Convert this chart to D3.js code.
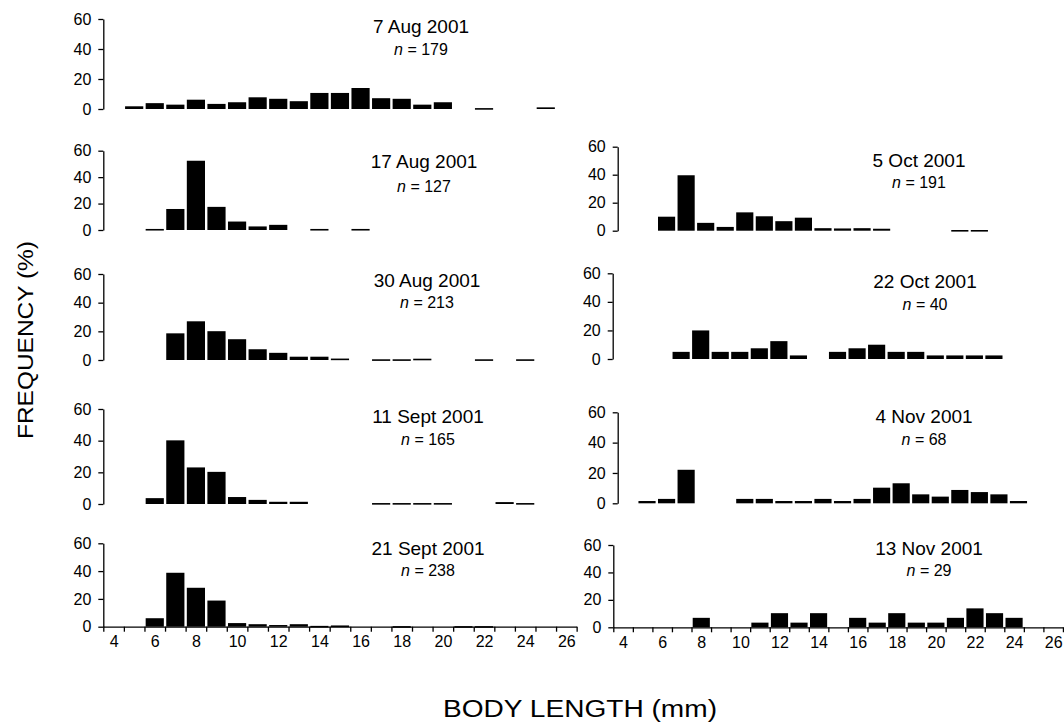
<!DOCTYPE html>
<html>
<head>
<meta charset="utf-8">
<script src="https://cdn.jsdelivr.net/npm/d3@7"></script>
<style>
  body { margin: 0; background: #fff; }
  svg { display: block; font-family: "Liberation Sans", Arial, sans-serif; }
  .axis path, .axis line { stroke: #000; stroke-width: 1.3px; }
</style>
</head>
<body>
<svg id="chart" width="1064" height="726"></svg>
<script>
// body length classes (mm)
const bins = d3.range(4, 27);
const xLabels = [4, 6, 8, 10, 12, 14, 16, 18, 20, 22, 24, 26];
const yTicks = [0, 20, 40, 60];

const dates = ["7 Aug 2001", "17 Aug 2001", "30 Aug 2001", "11 Sept 2001", "21 Sept 2001",
  "5 Oct 2001", "22 Oct 2001", "4 Nov 2001", "13 Nov 2001"];
const sampleSizes = [179, 127, 213, 165, 238, 191, 40, 68, 29];

// frequency (%) per length class, one array per sample, [bin, pct]
const aug07 = [[5,1.8],[6,3.9],[7,2.9],[8,6.2],[9,3.4],[10,4.5],[11,7.8],[12,6.8],[13,5.2],[14,10.7],
  [15,10.7],[16,14.0],[17,7.2],[18,6.8],[19,2.9],[20,4.5],[22,0.6],[25,1.1]];
const aug17 = [[6,0.8],[7,15.9],[8,52.4],[9,17.5],[10,6.4],[11,2.7],[12,3.9],[14,0.8],[16,0.8]];
const aug30 = [[7,18.6],[8,27.0],[9,20.1],[10,14.5],[11,7.5],[12,5.0],[13,2.3],[14,2.3],[15,1.0],
  [17,0.5],[18,0.5],[19,0.9],[22,0.5],[24,0.5]];
const sep11 = [[6,3.7],[7,40.2],[8,23.1],[9,20.3],[10,4.4],[11,2.6],[12,1.4],[13,1.4],[17,0.6],
  [18,0.6],[19,0.6],[20,0.6],[23,1.2],[24,0.6]];
const sep21 = [[6,6.1],[7,38.8],[8,28.0],[9,18.8],[10,2.6],[11,1.8],[12,1.2],[13,1.8],[14,0.6],
  [15,0.9],[18,0.4],[21,0.4],[22,0.4]];
const oct05 = [[6,10.0],[7,39.6],[8,5.6],[9,2.7],[10,13.1],[11,10.3],[12,6.8],[13,9.3],[14,1.8],
  [15,1.6],[16,1.8],[17,1.4],[21,0.5],[22,0.5]];
const oct22 = [[7,5.0],[8,20.0],[9,5.0],[10,5.0],[11,7.5],[12,12.5],[13,2.5],[15,5.0],[16,7.5],
  [17,10.0],[18,5.0],[19,5.0],[20,2.5],[21,2.5],[22,2.5],[23,2.5]];
const nov04 = [[5,1.5],[6,2.9],[7,22.1],[10,2.9],[11,2.9],[12,1.5],[13,1.5],[14,2.9],[15,1.5],
  [16,2.9],[17,10.3],[18,13.2],[19,5.9],[20,4.4],[21,8.8],[22,7.4],[23,5.9],[24,1.5]];
const nov13 = [[8,6.9],[11,3.4],[12,10.3],[13,3.4],[14,10.3],[16,6.9],[17,3.4],[18,10.3],[19,3.4],
  [20,3.4],[21,6.9],[22,13.8],[23,10.3],[24,6.9]];

const series = [aug07, aug17, aug30, sep11, sep21, oct05, oct22, nov04, nov13];

// panel frames: left edge of x range, bin width, y of 60 and y of 0
const panels = [
  { x0: 103.3, bw: 20.58, top: 19,    base: 109,   tx: 421, ty: 33,  ny: 55,  xAxis: false },
  { x0: 103.3, bw: 20.58, top: 150.7, base: 230,   tx: 424, ty: 168, ny: 192, xAxis: false },
  { x0: 103.3, bw: 20.58, top: 274,   base: 360,   tx: 427, ty: 287, ny: 308, xAxis: false },
  { x0: 103.3, bw: 20.58, top: 409,   base: 504,   tx: 428, ty: 423, ny: 445, xAxis: false },
  { x0: 103.3, bw: 20.58, top: 543.3, base: 626.7, tx: 428, ty: 555, ny: 576, xAxis: true },
  { x0: 617.7, bw: 19.55, top: 146.7, base: 230.7, tx: 919, ty: 167, ny: 188, xAxis: false },
  { x0: 612.7, bw: 19.55, top: 273.3, base: 359,   tx: 925, ty: 288, ny: 310, xAxis: false },
  { x0: 617.7, bw: 19.55, top: 412.3, base: 503.3, tx: 924, ty: 423, ny: 445, xAxis: false },
  { x0: 613.3, bw: 19.55, top: 545,   base: 627.3, tx: 929, ty: 555, ny: 576, xAxis: true }
];

const svg = d3.select("#chart");

function styleAxis(sel) {
  sel.selectAll("text")
    .attr("font-family", "Liberation Sans, Arial, sans-serif")
    .style("font-size", "16px")
    .attr("fill", "#000");
}

panels.forEach(function(p, i) {
  let x = d3.scaleLinear()
    .domain([3.5, 26.5])
    .range([p.x0, p.x0 + p.bw * bins.length]);
  let y = d3.scaleLinear().domain([0, 60]).range([p.base, p.top]);

  let g = svg.append("g").attr("class", "panel");

  g.selectAll("rect")
    .data(series[i])
    .enter().append("rect")
    .attr("x", d => x(d[0] - 0.5) + 1.2)
    .attr("width", d => x(d[0] + 0.5) - x(d[0] - 0.5) - 2.4)
    .attr("y", d => y(d[1]))
    .attr("height", d => Math.max(1.6, y(0) - y(d[1])))
    .attr("fill", "#000");

  if (p.xAxis) {
    // ticks on class edges
    g.append("g")
      .attr("class", "axis")
      .attr("transform", "translate(0," + p.base + ")")
      .call(d3.axisBottom(x).tickValues(d3.range(3.5, 27, 1)).tickSize(5).tickSizeOuter(0).tickFormat(""));
    // labels on class centres
    let lab = g.append("g")
      .attr("class", "axis")
      .attr("transform", "translate(0," + p.base + ")")
      .call(d3.axisBottom(x).tickValues(xLabels).tickSize(0).tickPadding(9).tickFormat(d3.format("d")))
      .call(styleAxis);
    lab.select(".domain").remove();
  }

  g.append("g")
    .attr("class", "axis")
    .attr("transform", "translate(" + p.x0 + ",0)")
    .call(d3.axisLeft(y).tickValues(yTicks).tickSize(5).tickSizeOuter(0).tickPadding(7))
    .call(styleAxis);

  g.append("text")
    .attr("x", p.tx).attr("y", p.ty)
    .attr("text-anchor", "middle")
    .style("font-size", "19px")
    .text(dates[i]);

  let n = g.append("text")
    .attr("x", p.tx).attr("y", p.ny)
    .attr("text-anchor", "middle")
    .style("font-size", "16px");
  n.append("tspan").style("font-style", "italic").text("n");
  n.append("tspan").text(" = " + sampleSizes[i]);
});

svg.append("text")
  .attr("transform", "translate(33,340) rotate(-90)")
  .attr("text-anchor", "middle")
  .attr("textLength", 198)
  .attr("lengthAdjust", "spacingAndGlyphs")
  .style("font-size", "22px")
  .text("FREQUENCY (%)");

svg.append("text")
  .attr("x", 580).attr("y", 717)
  .attr("text-anchor", "middle")
  .attr("textLength", 274)
  .attr("lengthAdjust", "spacingAndGlyphs")
  .style("font-size", "23px")
  .text("BODY LENGTH (mm)");
</script>
</body>
</html>
